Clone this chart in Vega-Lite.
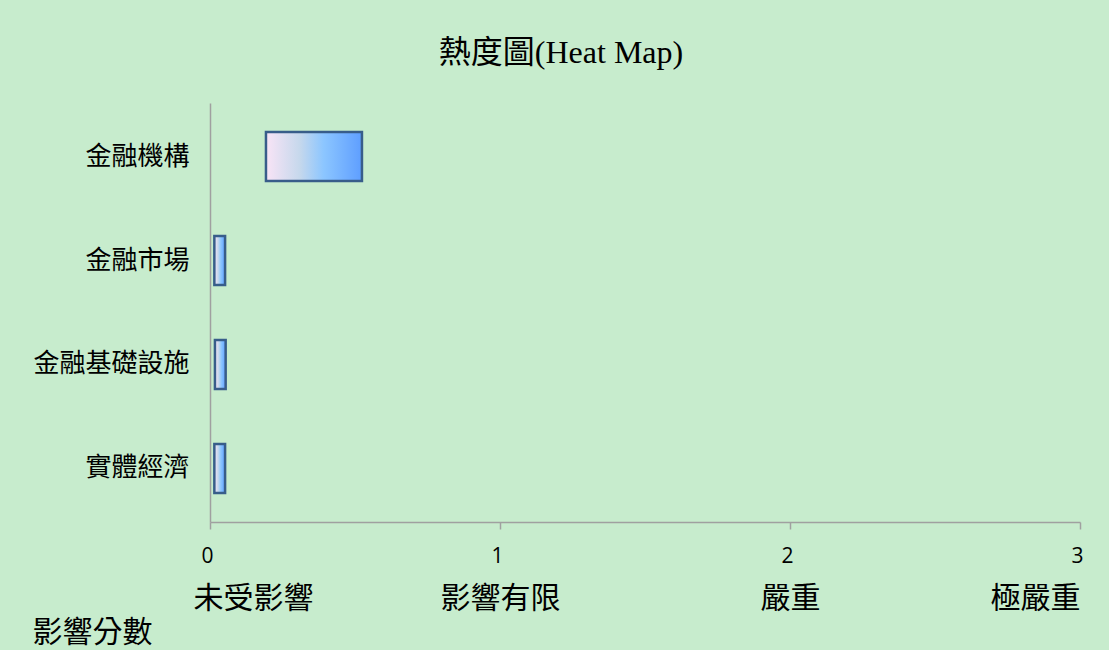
{
  "$schema": "https://vega.github.io/schema/vega-lite/v6.json",
  "autosize": {"type": "none"},
  "width": 870,
  "height": 419,
  "padding": {"left": 210, "top": 103, "right": 29, "bottom": 128},
  "background": "#C7ECCD",
  "title": {
    "text": "熱度圖(Heat Map)",
    "font": "Liberation Serif, Noto Sans CJK TC",
    "fontSize": 32,
    "fontWeight": "normal",
    "color": "#000000",
    "anchor": "middle",
    "baseline": "alphabetic",
    "offset": 8,
    "dx": -84
  },
  "config": {
    "view": {"stroke": null},
    "axis": {"grid": false, "domainColor": "#A0A0A0", "domainWidth": 1.5, "tickColor": "#A0A0A0", "tickWidth": 1.5, "labelColor": "#000000", "titleColor": "#000000"}
  },
  "datasets": {
    "impact": [
      {"area": "金融機構", "low": 0.193, "high": 0.524},
      {"area": "金融市場", "low": 0.015, "high": 0.052},
      {"area": "金融基礎設施", "low": 0.017, "high": 0.054},
      {"area": "實體經濟", "low": 0.015, "high": 0.052}
    ],
    "levels": [
      {"score": 0, "level": "未受影響"},
      {"score": 1, "level": "影響有限"},
      {"score": 2, "level": "嚴重"},
      {"score": 3, "level": "極嚴重"}
    ]
  },
  "layer": [
    {
      "data": {"name": "impact"},
      "mark": {
        "type": "bar",
        "stroke": "#385D8A",
        "strokeWidth": 2.5,
        "color": {
          "gradient": "linear",
          "x1": 0, "y1": 0, "x2": 1, "y2": 0,
          "stops": [
            {"offset": 0, "color": "#F9E4F6"},
            {"offset": 0.35, "color": "#C6D8EC"},
            {"offset": 0.6, "color": "#8CC6FF"},
            {"offset": 1, "color": "#5E9EFF"}
          ]
        }
      },
      "encoding": {
        "y": {
          "field": "area",
          "type": "nominal",
          "sort": null,
          "scale": {"paddingInner": 0.53, "paddingOuter": 0.28},
          "axis": {
            "title": null,
            "ticks": false,
            "labelPadding": 21,
            "labelFont": "Noto Sans CJK TC",
            "labelFontSize": 26
          }
        },
        "x": {
          "field": "low",
          "type": "quantitative",
          "scale": {"domain": [0, 3], "nice": false},
          "axis": {
            "title": null,
            "values": [0, 1, 2, 3],
            "format": "d",
            "tickSize": 7,
            "labelFlush": false,
            "labelAlign": "center",
            "labelOffset": -3,
            "labelFont": "Open Sans",
            "labelFontSize": 21,
            "labelBaseline": "middle",
            "labelPadding": 27
          }
        },
        "x2": {"field": "high"}
      }
    },
    {
      "data": {"name": "levels"},
      "mark": {"type": "point", "opacity": 0},
      "encoding": {
        "x": {
          "field": "score",
          "type": "quantitative",
          "axis": {
            "orient": "bottom",
            "values": [0, 1, 2, 3],
            "domain": false,
            "ticks": false,
            "tickSize": 0,
            "labelExpr": "['未受影響','影響有限','嚴重','極嚴重'][datum.value]",
            "labelFont": "Noto Sans CJK TC",
            "labelFontSize": 30,
            "labelBaseline": "middle",
            "labelPadding": 76,
            "labelFlush": true,
            "labelOffset": {"condition": {"test": "datum.value == 0", "value": -17}, "value": 0},
            "title": "影響分數",
            "titleFont": "Noto Sans CJK TC",
            "titleFontSize": 30,
            "titleFontWeight": "normal",
            "titleAnchor": "start",
            "titleAlign": "left",
            "titleBaseline": "middle",
            "titleX": -178,
            "titleY": 110
          }
        }
      }
    }
  ],
  "resolve": {"axis": {"x": "independent"}}
}
